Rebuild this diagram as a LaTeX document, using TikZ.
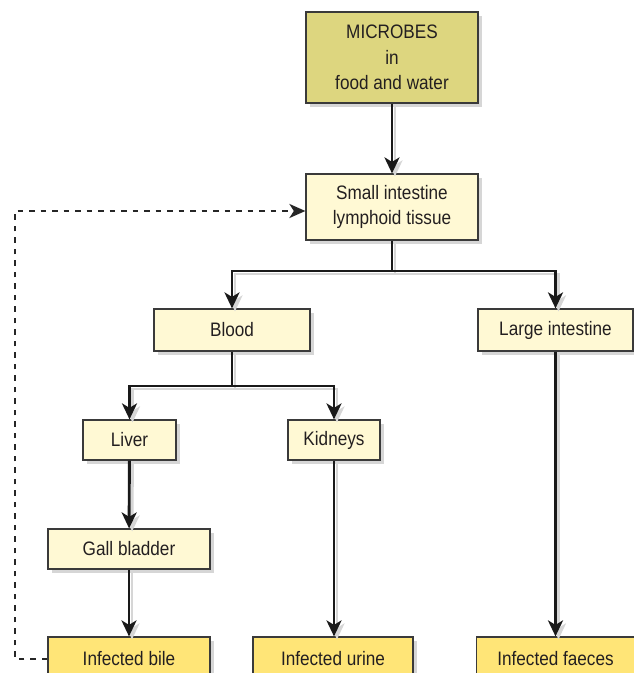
\documentclass[tikz,border=0pt]{standalone}
\usepackage{fontspec}
\setmainfont{Liberation Sans}[FakeStretch=0.88]
\usetikzlibrary{arrows.meta,shadows,calc}
\definecolor{olivebox}{HTML}{DDD67F}
\definecolor{lightbox}{HTML}{FFF9D4}
\definecolor{yelbox}{HTML}{FFE577}
\definecolor{edgec}{HTML}{3A3A3A}
\definecolor{txtc}{HTML}{231F20}
\definecolor{shadc}{HTML}{D6D6D6}
\begin{document}
\begin{tikzpicture}[x=1pt,y=-1pt,
  box/.style={draw=edgec,line width=1.2pt,fill=lightbox,text=txtc,align=center,
    inner sep=0pt,font=\fontsize{19.5}{25.5}\selectfont,
    drop shadow={shadow xshift=4pt,shadow yshift=-4pt,fill=shadc,opacity=1}},
  conn/.style={draw=black!90,line width=2.9pt,
    -{Stealth[length=16pt,width=15pt,inset=4.5pt]},
    preaction={draw=shadc,line width=2.9pt,transform canvas={shift={(3pt,-3pt)}}}},
  link/.style={draw=black!90,line width=2.9pt,
    preaction={draw=shadc,line width=2.9pt,transform canvas={shift={(3pt,-3pt)}}}},
  dashlink/.style={draw=black!85,line width=2.6pt,dash pattern=on 5.5pt off 6pt,
    -{Stealth[length=16pt,width=14pt,inset=4.5pt]}}]
\useasboundingbox (0,0) rectangle (634,673);
% nodes
\node[box,fill=olivebox,minimum width=172pt,minimum height=91pt] (mic) at (392,57.5) {MICROBES\\in\\food and water};
\node[box,minimum width=172pt,minimum height=66pt] (small) at (392,207) {Small intestine\\lymphoid tissue};
\node[box,minimum width=156pt,minimum height=42pt] (blood) at (232,330) {Blood};
\node[box,minimum width=155pt,minimum height=42pt] (large) at (555.5,330) {Large intestine};
\node[box,minimum width=93pt,minimum height=40pt] (liver) at (129.5,440) {Liver};
\node[box,minimum width=92pt,minimum height=40pt] (kid) at (334,440) {Kidneys};
\node[box,minimum width=162pt,minimum height=40pt] (gall) at (129,549) {Gall bladder};
\node[box,fill=yelbox,minimum width=162pt,minimum height=44pt] (bile) at (129,659) {Infected bile};
\node[box,fill=yelbox,minimum width=160pt,minimum height=44pt] (urine) at (333,659) {Infected urine};
\node[box,fill=yelbox,minimum width=158pt,minimum height=44pt] (faec) at (555.5,659) {Infected faeces};
% junction coordinates
\coordinate (j1) at (392,271);
\coordinate (j2) at (232,386);
\coordinate (dl) at (15,659);
\coordinate (du) at (15,211);
% connectors
\draw[conn] (mic) -- (small);
\draw[link] (small.south) -- (j1);
\draw[conn] (j1) -| (blood.north);
\draw[conn] (j1) -| (large.north);
\draw[link] (blood.south) -- (j2);
\draw[conn] (j2) -| (liver.north);
\draw[conn] (j2) -| (kid.north);
\draw[conn] (liver) -- (gall);
\draw[conn] (gall) -- (bile);
\draw[conn] (kid.south) -- (kid.south |- urine.north);
\draw[conn] (large) -- (faec);
\draw[dashlink] (bile.west) -- (dl) -- (du) -- (du -| small.west);
\end{tikzpicture}
\end{document}
